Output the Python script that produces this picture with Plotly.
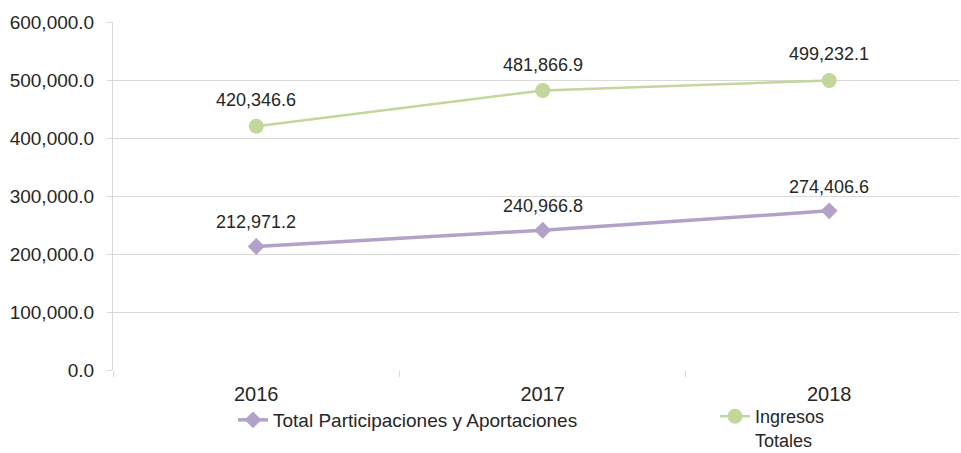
import plotly.graph_objects as go

years = ["2016", "2017", "2018"]
total_part = [212971.2, 240966.8, 274406.6]
ingresos = [420346.6, 481866.9, 499232.1]
y_ticks = [0, 100000, 200000, 300000, 400000, 500000, 600000]
y_tick_labels = ["0.0", "100,000.0", "200,000.0", "300,000.0", "400,000.0", "500,000.0", "600,000.0"]

purple = "#B3A2C7"
green = "#C3D69B"
font_family = "Liberation Sans, Arial, sans-serif"
txt_color = "#262626"

fig = go.Figure()
fig.add_trace(go.Scatter(
    x=years, y=total_part, mode="lines+markers",
    name="Total Participaciones y Aportaciones",
    line=dict(color=purple, width=3.5),
    marker=dict(symbol="diamond", size=13, color=purple),
    legend="legend",
))
fig.add_trace(go.Scatter(
    x=years, y=ingresos, mode="lines+markers",
    name="Ingresos<br>Totales",
    line=dict(color=green, width=2.5),
    marker=dict(symbol="circle", size=15, color=green),
    legend="legend2",
))

def fmt(v):
    return f"{v:,.1f}"

for series, shift in ((total_part, 24), (ingresos, 26)):
    for i, y in enumerate(series):
        fig.add_annotation(x=i, y=y, xref="x", yref="y", text=fmt(y), showarrow=False,
                           yshift=shift, font=dict(size=18, color=txt_color, family=font_family))

legend_common = dict(
    orientation="h", xref="container", yref="container",
    xanchor="left", yanchor="top", valign="top",
    bgcolor="rgba(0,0,0,0)", borderwidth=0,
)

fig.update_layout(
    width=961, height=453,
    margin=dict(l=113, r=2, t=22, b=83, autoexpand=False),
    paper_bgcolor="white", plot_bgcolor="white",
    font=dict(family=font_family, size=18, color=txt_color),
    showlegend=True,
    legend=dict(x=233 / 961, y=(453 - 401) / 453,
                font=dict(size=19, color=txt_color, family=font_family), **legend_common),
    legend2=dict(x=715 / 961, y=(453 - 398) / 453,
                 font=dict(size=18, color=txt_color, family=font_family), **legend_common),
)
fig.update_xaxes(
    type="category", range=[-0.5, 2.453],
    showgrid=False, showline=False, zeroline=False,
    ticks="outside", tickson="boundaries", ticklen=6, tickcolor="#D9D9D9",
    tickfont=dict(size=20, color=txt_color, family=font_family),
    ticklabelstandoff=10,
    fixedrange=True,
)
fig.update_yaxes(
    range=[0, 600000], tickvals=y_ticks, ticktext=y_tick_labels,
    showgrid=True, gridcolor="#D9D9D9", gridwidth=1,
    showline=True, linecolor="#D9D9D9", linewidth=1,
    zeroline=False, ticks="outside", ticklen=5, tickcolor="#D9D9D9",
    tickfont=dict(size=19, color=txt_color), ticklabelstandoff=9,
    fixedrange=True,
)

fig.write_html("out.html", config={"displayModeBar": False},
               post_script="document.body.style.margin='0px';")
